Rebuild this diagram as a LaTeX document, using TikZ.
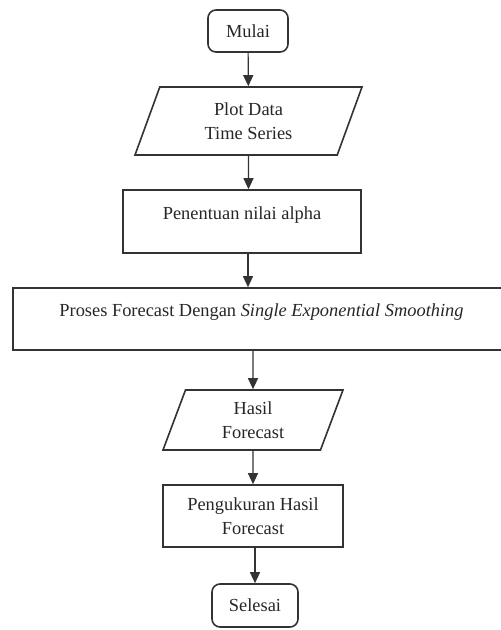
\documentclass[tikz,border=0pt]{standalone}
\usepackage{fontspec}
\setmainfont{Liberation Serif}
\usetikzlibrary{shapes.geometric,arrows.meta}
\begin{document}
\begin{tikzpicture}
          [x=1pt,y=-1pt,
          font=\fontsize{18.4}{24.5}\selectfont,
          term/.style={shape=rectangle,rounded corners=8pt,draw=black!80,text=black!85,line width=1.6pt,inner sep=0pt},
          proc/.style={shape=rectangle,draw=black!80,text=black!85,line width=1.6pt,align=center,inner sep=0pt},
          io/.style={shape=trapezium,trapezium stretches body=true,draw=black!80,text=black!85,line width=1.6pt,align=center,inner sep=0pt},
          up/.style={text height=12pt,text depth=17pt},
          arc/.style={-{Triangle[length=11pt,width=10pt]},draw=black!80,line width=1.2pt}]

            \useasboundingbox (0,0) rectangle (501,630);

            \node (mulai) [term,minimum width=80pt,minimum height=42pt] at (248,31) {Mulai};
            \node (plot) [io,minimum width=227pt,minimum height=68pt,trapezium left angle=56.5,trapezium right angle=123.5] at (248.5,121) {Plot Data\\Time Series};
            \node (nilai) [proc,up,minimum width=238pt,minimum height=63pt] at (242,221.5) {Penentuan nilai alpha};
            \node (proses) [proc,up,minimum width=497pt,minimum height=62pt] at (261.5,319) {Proses Forecast Dengan \textit{Single Exponential Smoothing}};
            \node (hasil) [io,minimum width=180pt,minimum height=60pt,trapezium left angle=59,trapezium right angle=121] at (253,420) {Hasil\\Forecast};
            \node (ukur) [proc,minimum width=180pt,minimum height=62pt] at (253,516) {Pengukuran Hasil\\Forecast};
            \node (selesai) [term,minimum width=86pt,minimum height=43pt] at (255,605.5) {Selesai};

          \draw [arc] (mulai) to (plot);
          \draw [arc] (plot) to (plot |- nilai.north);
          \draw [arc] (nilai.south -| mulai) to (proses.north -| mulai);
          \draw [arc] (proses.south -| hasil) to (hasil);
          \draw [arc] (hasil) to (hasil |- ukur.north);
          \draw [arc] (ukur.south -| selesai) to (selesai);

        \end{tikzpicture}
\end{document}
